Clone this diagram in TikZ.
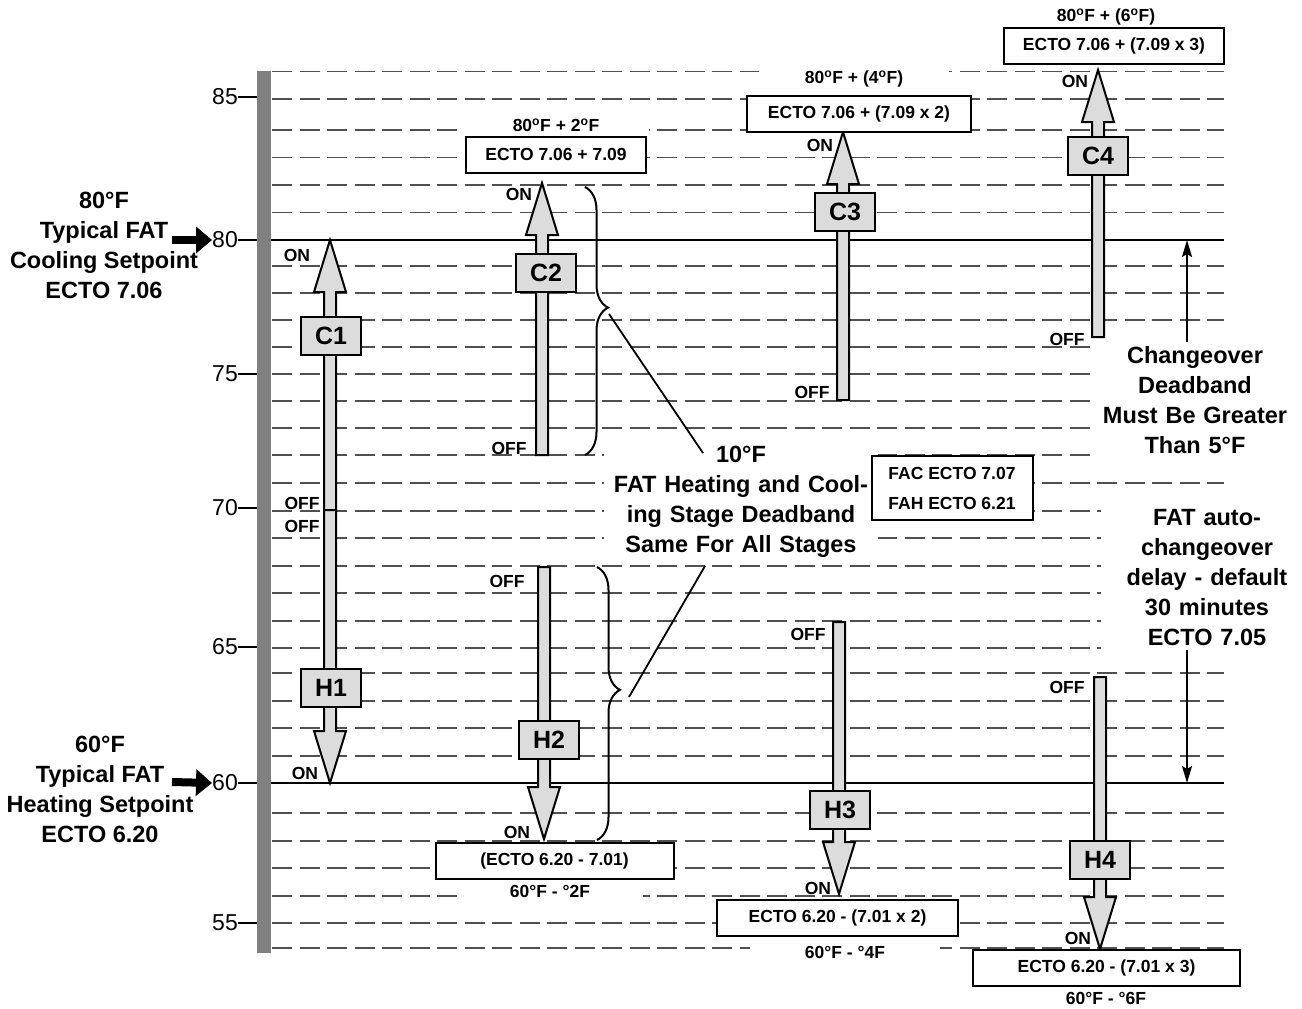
\documentclass[tikz,border=0pt]{standalone}
\usepackage{fontspec}
\setmainfont{Liberation Sans}
\usetikzlibrary{arrows.meta,calc,decorations.pathreplacing}

\definecolor{bargray}{HTML}{808080}
\definecolor{stagegray}{HTML}{DCDCDC}
\definecolor{rowgray}{HTML}{505050}

\newcommand{\lblfont}{\fontsize{23.5}{30}\selectfont\bfseries}
\newcommand{\stgfont}{\fontsize{25}{30}\selectfont\bfseries}
\newcommand{\eqnfont}{\fontsize{17.5}{21}\selectfont\bfseries}
\newcommand{\tickfont}{\fontsize{23}{28}\selectfont}
\newcommand{\sdeg}{\textsuperscript{o}}

% block arrow from the OFF end (#1) to the ON tip (#2)
\newcommand{\stagearrow}[2]{%
  \draw[stagearrow] let \p1=(#1), \p2=(#2), \n1={sign(\y1-\y2)} in
    (\x1-6,\y1) -- (\x1-6,\y2+52*\n1) -- (\x1-16,\y2+52*\n1) -- (\x2,\y2)
    -- (\x1+16,\y2+52*\n1) -- (\x1+6,\y2+52*\n1) -- (\x1+6,\y1) -- cycle;}

\begin{document}
\begin{tikzpicture}[x=1pt,y=-1pt,
  row/.style={rowgray,line width=1.4pt,dash pattern=on 20pt off 7.5pt},
  setline/.style={line width=2pt},
  stagearrow/.style={draw,line width=2pt,fill=stagegray,line join=miter},
  stagebox/.style={draw,line width=2pt,fill=stagegray,minimum width=60,minimum height=38,inner sep=0,font=\stgfont},
  ecto/.style={draw,line width=2pt,fill=white,minimum height=36,inner sep=0,font=\eqnfont},
  ectolabel/.style={fill=white,inner sep=1,minimum height=20,font=\eqnfont},
  onoff/.style={inner sep=0,font=\eqnfont},
  note/.style={fill=white,inner sep=4,align=center,font=\lblfont},
  pointer/.style={line width=2pt,-{Stealth[length=17pt,width=10pt,inset=3pt]}},
  setarrow/.style={line width=8pt,-{Triangle[length=16pt,width=26pt]}},
  ticklbl/.style={inner sep=0,anchor=east,font=\tickfont}]
  \useasboundingbox (0,0) rectangle (1302,1009);

  % degree rows
  \foreach \y in {71.7,99,130,157.5,185,212.5,266,293,320,347,374,401,428,455,483,
                  511,538,566,593,621,648,673,701,728,756,813,841,868,896,923,948}
    \draw[row] (272,\y) -- (1224,\y);
  \draw[setline] (271,240) -- (1224,240);
  \draw[setline] (271,783) -- (1224,783);

  % scale bar and ticks
  \fill[bargray] (257,71) rectangle (271,953);
  \foreach \t/\y in {85/97,80/240,75/374,70/508,65/647,60/783,55/923} {
    \node[ticklbl] (t\t) at (238,\y) {\t};
    \draw[setline] (238,\y) -- (257,\y);
  }

  % setpoints
  \node[align=center,font=\lblfont] (coolsp) at (104,245) {80°F\\Typical FAT\\Cooling Setpoint\\ECTO 7.06};
  \node[align=center,font=\lblfont] (heatsp) at (100,789) {60°F\\Typical FAT\\Heating Setpoint\\ECTO 6.20};
  \coordinate (coolarr) at (172,240); \coordinate (heatarr) at (172,782);
  \draw[setarrow] (coolarr) -- (t80.west);
  \draw[setarrow] (heatarr) -- (t60.west);

  % notes
  \node[note,text width=266] (dbnote) at (741,502) {10°F\\FAT Heating and Cool-\\ing Stage Deadband\\Same For All Stages};
  \node[note,text width=200] (chgnote) at (1195,400) {Changeover\\Deadband\\Must Be Greater\\Than 5°F};
  \node[note,text width=205] (dlynote) at (1207,578) {FAT auto-\\changeover\\delay - default\\30 minutes\\ECTO 7.05};
  \node[ecto,minimum width=161,minimum height=64,align=left,font=\fontsize{17.5}{30}\selectfont\bfseries] (facfah) at (952,488) {FAC ECTO 7.07\\FAH ECTO 6.21};

  % deadband braces
  \draw[line width=2pt,decorate,decoration={brace,amplitude=23pt,aspect=0.45}] (585,187) -- (585,455);
  \draw[line width=2pt,decorate,decoration={brace,amplitude=23pt,aspect=0.45}] (597,567) -- (597,840);
  \coordinate (b1tip) at (609,314); \coordinate (b1end) at (703,453);
  \coordinate (b2tip) at (629,697); \coordinate (b2end) at (705,566);
  \draw[line width=1.8pt] (b1tip) -- (b1end);
  \draw[line width=1.8pt] (b2tip) -- (b2end);

  % stage 1
  \coordinate (c1off) at (330,510); \coordinate (c1on) at (330,240);
  \coordinate (h1off) at (330,510); \coordinate (h1on) at (330,783);
  \stagearrow{c1off}{c1on}
  \stagearrow{h1off}{h1on}
  \node[stagebox] (c1) at (331,336) {C1};
  \node[stagebox] (h1) at (331,688) {H1};
  \node[onoff] (c1onl) at (297,255) {ON};
  \node[onoff] (c1offl) at (302,503) {OFF};
  \node[onoff] (h1offl) at (302,526) {OFF};
  \node[onoff] (h1onl) at (305,773) {ON};

  % stage 2
  \coordinate (c2off) at (542,455); \coordinate (c2on) at (542,183);
  \coordinate (h2off) at (544,567); \coordinate (h2on) at (544,839);
  \stagearrow{c2off}{c2on}
  \stagearrow{h2off}{h2on}
  \node[stagebox] (c2) at (546,273) {C2};
  \node[stagebox] (h2) at (549,740) {H2};
  \node[onoff] (c2onl) at (519,194) {ON};
  \node[onoff] (c2offl) at (509,448) {OFF};
  \node[onoff] (h2offl) at (507,581) {OFF};
  \node[onoff] (h2onl) at (517,832) {ON};
  \node[ecto,minimum width=180] (c2eq) at (556,154.5) {ECTO 7.06 + 7.09};
  \node[ectolabel,minimum width=185] (c2sp) at (556,125) {80\sdeg F + 2\sdeg F};
  \node[ecto,minimum width=238] (h2eq) at (554.5,861) {(ECTO 6.20 - 7.01)};
  \node[ectolabel,minimum width=186] (h2sp) at (550,891) {60°F - °2F};

  % stage 3
  \coordinate (c3off) at (843,400); \coordinate (c3on) at (843,132);
  \coordinate (h3off) at (839,622); \coordinate (h3on) at (839,894);
  \stagearrow{c3off}{c3on}
  \stagearrow{h3off}{h3on}
  \node[stagebox] (c3) at (845,212) {C3};
  \node[stagebox] (h3) at (840,810) {H3};
  \node[onoff] (c3onl) at (820,145) {ON};
  \node[onoff] (c3offl) at (812,392) {OFF};
  \node[onoff] (h3offl) at (808,634) {OFF};
  \node[onoff] (h3onl) at (818,888) {ON};
  \node[ecto,minimum width=224] (c3eq) at (859,113.5) {ECTO 7.06 + (7.09 x 2)};
  \node[ectolabel,minimum width=190] (c3sp) at (854,79) {80\sdeg F + (4\sdeg F)};
  \node[ecto,minimum width=241] (h3eq) at (837.5,918) {ECTO 6.20 - (7.01 x 2)};
  \node[ectolabel,minimum width=190] (h3sp) at (845,952) {60°F - °4F};

  % stage 4
  \coordinate (c4off) at (1098,337); \coordinate (c4on) at (1098,70);
  \coordinate (h4off) at (1100,677); \coordinate (h4on) at (1100,949);
  \stagearrow{c4off}{c4on}
  \stagearrow{h4off}{h4on}
  \node[stagebox] (c4) at (1098,156) {C4};
  \node[stagebox] (h4) at (1100,860) {H4};
  \node[onoff] (c4onl) at (1075,81) {ON};
  \node[onoff] (c4offl) at (1067,339) {OFF};
  \node[onoff] (h4offl) at (1067,687) {OFF};
  \node[onoff] (h4onl) at (1078,938) {ON};
  \node[ecto,minimum width=220] (c4eq) at (1114,45.5) {ECTO 7.06 + (7.09 x 3)};
  \node[ectolabel] (c4sp) at (1106,17) {80\sdeg F + (6\sdeg F)};
  \node[ecto,minimum width=267] (h4eq) at (1106.5,968) {ECTO 6.20 - (7.01 x 3)};
  \node[ectolabel] (h4sp) at (1106,998) {60°F - °6F};

  % changeover pointers
  \coordinate (cotop) at (1187,240); \coordinate (dlybot) at (1187,783);
  \draw[pointer] (chgnote.north -| cotop) -- (cotop);
  \draw[pointer] (dlynote.south -| dlybot) -- (dlybot);
\end{tikzpicture}
\end{document}
